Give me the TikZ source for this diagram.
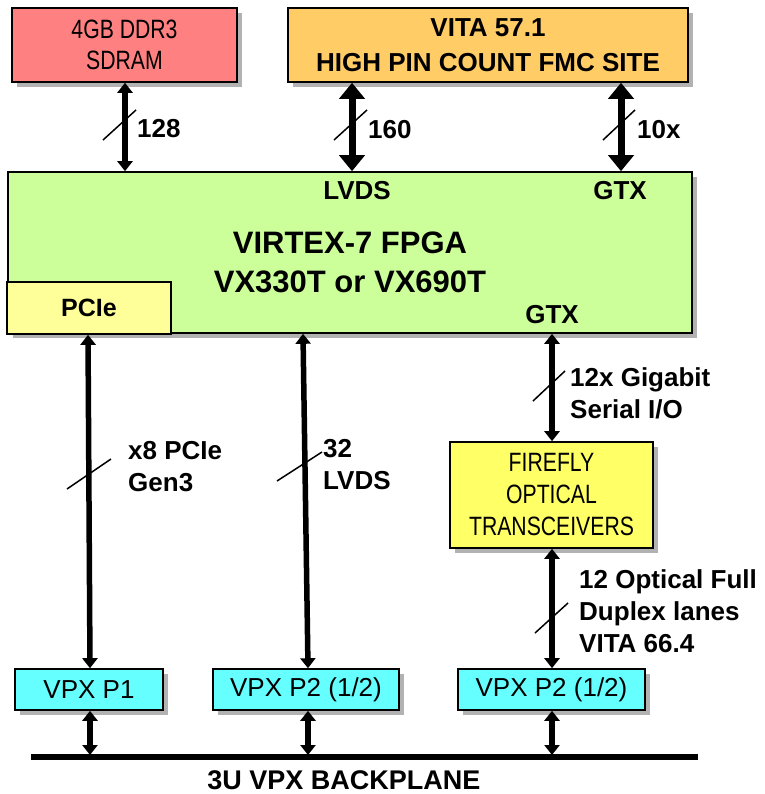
\documentclass[tikz,border=0pt]{standalone}
\usepackage{fontspec}
\setmainfont{Liberation Sans}
\newfontfamily\narrowfont[FakeStretch=0.8]{Liberation Sans}
\usetikzlibrary{arrows.meta,shadows}
\definecolor{ddrc}{HTML}{FF8080}
\definecolor{fmcc}{HTML}{FFCC66}
\definecolor{fpgac}{HTML}{CCFF99}
\definecolor{pciec}{HTML}{FFFF99}
\definecolor{ffc}{HTML}{FFFF66}
\definecolor{vpxc}{HTML}{66FFFF}
\begin{document}
\begin{tikzpicture}[x=1pt,y=-1pt,
  blk/.style={draw=black, line width=1.6pt, rectangle, inner sep=0pt, align=center},
  shd/.style={drop shadow={shadow xshift=5pt, shadow yshift=-5pt, fill=black!30, opacity=1}},
  boxnarrow/.style={font=\narrowfont\fontsize{26.5}{31}\selectfont},
  boxreg/.style={font=\fontsize{26}{31}\selectfont},
  bold26/.style={font=\bfseries\fontsize{26}{32}\selectfont, inner sep=0pt, align=left},
  bigtitle/.style={font=\bfseries\fontsize{31}{39}\selectfont, inner sep=0pt, align=center},
  arrS/.style={line width=5.5pt, {Triangle[width=15pt,length=10pt]}-{Triangle[width=15pt,length=10pt]}},
  arrL/.style={line width=7pt, {Triangle[width=25pt,length=16pt]}-{Triangle[width=25pt,length=16pt]}},
  slash/.style={line width=1.5pt}
]
\useasboundingbox (0,0) rectangle (764,794);

% boxes
\node[blk, shd, fill=ddrc, minimum width=225pt, minimum height=74pt, boxnarrow] (ddr) at (124.5,45) {4GB DDR3\\SDRAM};
\node[blk, shd, fill=fmcc, minimum width=400pt, minimum height=74pt, font=\bfseries\fontsize{26}{35}\selectfont] (fmc) at (488,45) {VITA 57.1\\HIGH PIN COUNT FMC SITE};
\node[blk, shd, fill=fpgac, minimum width=684pt, minimum height=161pt] (fpga) at (350,252.5) {};
\node[blk, fill=pciec, minimum width=164pt, minimum height=52pt, font=\bfseries\fontsize{25}{30}\selectfont] (pcie) at (89,308) {PCIe};
\node[bigtitle] (title) at (350,262) {VIRTEX-7 FPGA\\VX330T or VX690T};
\node[bold26, anchor=center] (lvds) at (357,191) {LVDS};
\node[bold26, anchor=center] (gtxt) at (620,191) {GTX};
\node[bold26, anchor=center] (gtxb) at (552,315) {GTX};
\node[blk, shd, fill=ffc, minimum width=203pt, minimum height=106pt, font=\narrowfont\fontsize{26.5}{32}\selectfont] (ff) at (551.5,495) {FIREFLY\\OPTICAL\\TRANSCEIVERS};
\node[blk, shd, fill=vpxc, minimum width=148pt, minimum height=41pt, boxreg] (vpx1) at (89,689.5) {VPX P1};
\node[blk, shd, fill=vpxc, minimum width=186pt, minimum height=41pt, boxreg] (vpx2) at (306,689.5) {VPX P2 (1/2)};
\node[blk, shd, fill=vpxc, minimum width=187pt, minimum height=41pt, boxreg] (vpx3) at (551.5,689.5) {VPX P2 (1/2)};

% x positions of connectors
\coordinate (xddr) at (125,0);
\coordinate (xlv) at (352,0);
\coordinate (xgt) at (621,0);
\coordinate (xp1t) at (88,0);
\coordinate (xp1b) at (90,0);
\coordinate (xp2t) at (303,0);
\coordinate (xp2b) at (308,0);
\coordinate (xp3) at (552,0);

% top connectors
\draw[arrS] (xddr |- ddr.south) -- (xddr |- fpga.north);
\draw[arrL] (xlv |- fmc.south) -- (xlv |- fpga.north);
\draw[arrL] (xgt |- fmc.south) -- (xgt |- fpga.north);

% long connectors
\draw[arrS] (xp1t |- pcie.south) -- (xp1b |- vpx1.north);
\draw[arrS] (xp2t |- fpga.south) -- (xp2b |- vpx2.north);
\draw[arrS] (xp3 |- fpga.south) -- (xp3 |- ff.north);
\draw[arrS] (xp3 |- ff.south) -- (xp3 |- vpx3.north);

% backplane
\coordinate (bpl) at (31,757);
\coordinate (bpr) at (698,757);
\draw[line width=6pt] (bpl) -- (bpr);
\coordinate (bp1) at (90,755);
\coordinate (bp2) at (308,755);
\coordinate (bp3) at (552,755);
\draw[arrS] (xp1b |- vpx1.south) -- (bp1);
\draw[arrS] (xp2b |- vpx2.south) -- (bp2);
\draw[arrS] (xp3 |- vpx3.south) -- (bp3);
\node[font=\bfseries\fontsize{27}{32}\selectfont, inner sep=0pt] (bptxt) at (344,780) {3U VPX BACKPLANE};

% bus-width slashes
\draw[slash] (103,140) -- (136,110);
\draw[slash] (334,140) -- (367,110);
\draw[slash] (603,140) -- (635,110);
\draw[slash] (67,489) -- (111,459);
\draw[slash] (277,481) -- (322,452);
\draw[slash] (533,401) -- (565,371);
\draw[slash] (535,633) -- (568,603);

% labels
\node[bold26, anchor=west] (l128) at (137,129) {128};
\node[bold26, anchor=west] (l160) at (368,130) {160};
\node[bold26, anchor=west] (l10x) at (637,130) {10x};
\node[bold26, anchor=west] (lgig) at (570,393) {12x Gigabit\\Serial I/O};
\node[bold26, anchor=west] (lpcie) at (128,467) {x8 PCIe\\Gen3};
\node[bold26, anchor=west] (llvds) at (323,465) {32\\LVDS};
\node[bold26, anchor=west] (lopt) at (579,611) {12 Optical Full\\Duplex lanes\\VITA 66.4};
\end{tikzpicture}
\end{document}
